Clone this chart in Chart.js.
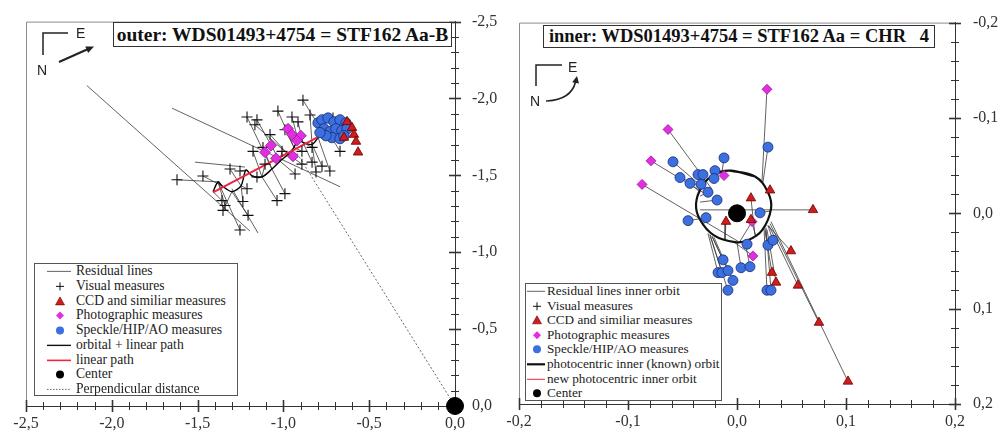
<!DOCTYPE html>
<html>
<head>
<meta charset="utf-8">
<script src="https://cdn.jsdelivr.net/npm/chart.js@4.4.0/dist/chart.umd.min.js"></script>
<style>
html, body { margin: 0; padding: 0; background: #fff; }
#wrap { position: relative; width: 1003px; height: 439px; overflow: hidden; font-family: "Liberation Serif", "Times New Roman", serif; }
canvas { position: absolute; top: 0; }
#cOuter { left: 0; }
#cInner { left: 500px; }
.title { position: absolute; box-sizing: border-box; border: 1px solid #333; background: #fff; font-weight: bold; white-space: pre; color: #111; text-align: center; }
.legend { position: absolute; box-sizing: border-box; border: 1px solid #555; background: #fff; color: #222; }
.legend .row { position: relative; white-space: nowrap; }
.legend svg { position: absolute; left: 0; top: 0; }
#compass { position: absolute; left: 0; top: 0; }
</style>
</head>
<body>
<div id="wrap">
  <canvas id="cOuter" width="500" height="439"></canvas>
  <canvas id="cInner" width="503" height="439"></canvas>
  <div class="title" style="left:113px;top:22px;width:339px;height:25px;font-size:19.5px;line-height:23px;">outer: WDS01493+4754 = STF162 Aa-B</div>
  <div class="title" style="left:543px;top:25px;width:392px;height:23px;font-size:18.5px;line-height:21px;">inner: WDS01493+4754 = STF162 Aa = CHR   4</div>
  <div class="legend" id="legOuter" style="left:34px;top:263px;width:204px;height:133px;font-size:13.6px;"></div>
  <div class="legend" id="legInner" style="left:525px;top:283px;width:197px;height:118px;font-size:13.2px;"></div>
  <svg id="compass" width="1003" height="439">
    <g stroke="#222" fill="none" stroke-width="1.5">
      <path d="M68 33 H43 V55"/>
      <line x1="59" y1="62" x2="87" y2="49.5" stroke-width="2"/>
      <path d="M562 65 H536 V86"/>
      <path d="M546 101 Q571 100 575.5 82" stroke-width="1.6"/>
    </g>
    <g fill="#222">
      <polygon points="94,46.5 88.1,52.9 85.3,46.5"/>
      <polygon points="577,76 579,83.6 572.2,82.2"/>
    </g>
    <g font-family="Liberation Sans, Arial, sans-serif" font-size="14" fill="#222">
      <text x="76" y="38">E</text>
      <text x="37" y="75">N</text>
      <text x="568" y="72">E</text>
      <text x="530" y="106">N</text>
    </g>
  </svg>
</div>
<script>
// ---------- outer orbit (STF162 Aa-B) ----------
const outerVisX = [-0.886,-1.212,-1.154,-1.166,-1.032,-0.950,-0.915,-0.845,-0.711,-1.177,-1.119,-1.008,-0.892,-0.892,-0.833,-0.775,-0.729,-0.670,-0.833,-0.932,-1.253,-1.311,-1.154,-1.620,-1.469,-1.358,-1.340,-1.352,-1.236,-1.206,-1.037,-0.991,-1.253,-1.078,-0.991,-0.810,-1.212,-1.107];
const outerVisY = [-1.989,-1.880,-1.861,-1.829,-1.918,-1.880,-1.848,-1.893,-1.873,-1.656,-1.682,-1.656,-1.656,-1.573,-1.586,-1.560,-1.528,-1.656,-1.682,-1.509,-1.528,-1.541,-1.490,-1.471,-1.496,-1.336,-1.304,-1.272,-1.330,-1.240,-1.336,-1.381,-1.145,-1.765,-1.797,-1.522,-1.413,-1.573];
const outerVisPredX = [-0.775,-1.067,-1.020,-0.973,-0.938,-0.915,-0.886,-0.833,-0.729,-1.125,-1.067,-1.020,-0.938,-0.973,-0.886,-0.833,-0.798,-0.729,-0.886,-1.020,-1.218,-1.247,-1.183,-1.381,-1.358,-1.410,-1.381,-1.300,-1.247,-1.300,-1.125,-1.067,-1.381,-0.973,-0.938,-0.833,-1.247,-1.125];
const outerVisPredY = [-1.790,-1.541,-1.592,-1.637,-1.682,-1.733,-1.714,-1.701,-1.765,-1.490,-1.541,-1.592,-1.682,-1.637,-1.714,-1.701,-1.746,-1.765,-1.714,-1.592,-1.535,-1.432,-1.496,-1.458,-1.432,-1.394,-1.458,-1.394,-1.432,-1.394,-1.490,-1.541,-1.458,-1.637,-1.682,-1.701,-1.432,-1.490];
// long residual lines
const outerLongX1 = [-2.145,-1.649,-1.515,-1.300];
const outerLongY1 = [-2.084,-1.937,-1.586,-1.413];
const outerLongX2 = [-1.195,-0.670,-1.224,-1.148];
const outerLongY2 = [-1.138,-1.426,-1.554,-1.125];

const outerCcdX = [-0.629,-0.600,-0.589,-0.577,-0.565,-0.647];
const outerCcdY = [-1.848,-1.810,-1.765,-1.720,-1.650,-1.746];
const outerPhotoX = [-1.072,-1.043,-0.973,-0.950,-0.898,-0.921,-0.944,-1.107];
const outerPhotoY = [-1.694,-1.611,-1.803,-1.765,-1.758,-1.726,-1.624,-1.650];
const outerSpeckleX = [-0.798,-0.775,-0.740,-0.705,-0.670,-0.635,-0.763,-0.729,-0.694,-0.659,-0.629,-0.717,-0.670,-0.752,-0.647,-0.787];
const outerSpeckleY = [-1.841,-1.861,-1.873,-1.848,-1.861,-1.841,-1.803,-1.784,-1.803,-1.790,-1.803,-1.746,-1.739,-1.758,-1.758,-1.778];

const outerPathX = [-1.410,-1.381,-1.358,-1.300,-1.247,-1.218,-1.183,-1.125,-1.067,-1.020,-0.973,-0.938,-0.915,-0.886,-0.833,-0.798,-0.775,-0.729,-0.682,-0.641];
const outerPathY = [-1.394,-1.458,-1.432,-1.394,-1.432,-1.535,-1.496,-1.490,-1.541,-1.592,-1.637,-1.682,-1.733,-1.714,-1.701,-1.746,-1.790,-1.765,-1.746,-1.778];
const outerLinearX = [-1.41,-0.73];
const outerLinearY = [-1.39,-1.79];
const outerPerpX = [0, -0.93];
const outerPerpY = [0, -1.66];

// ---------- inner orbit (STF162 Aa = CHR 4) ----------
const innerCcdX = [0.0303,0.0128,0.0697,-0.0101,0.0128,0.0495,0.0321,0.0358,0.0559,0.0752,0.1018];
const innerCcdY = [-0.0242,-0.0159,-0.0036,0.0087,0.0067,0.0396,0.0622,0.0725,0.0756,0.1146,0.1763];
const innerCcdPredX = [0.0266,0.0165,-0.0339,-0.0110,0.0174,0.0284,0.0257,0.0275,0.0293,0.0303,0.0312];
const innerCcdPredY = [-0.0252,0.0231,-0.0036,0.0272,0.0242,0.0129,0.0190,0.0170,0.0129,0.0108,0.0087];
const innerPhotoX = [0.0275,-0.0633,-0.0789,-0.0871,-0.0119,0.0138,0.0147];
const innerPhotoY = [-0.1301,-0.0879,-0.0550,-0.0303,-0.0396,0.0087,0.0447];
const innerPhotoPredX = [0.0229,-0.0229,-0.0284,0.0009,-0.0156,0.0028,-0.0037];
const innerPhotoPredY = [-0.0324,-0.0252,-0.0200,0.0293,-0.0427,0.0293,0.0293];
const innerSpeckleX = [0.0284,-0.0587,-0.0119,-0.0523,-0.0358,-0.0312,-0.0202,-0.0431,-0.0330,-0.0211,-0.0266,-0.0183,-0.0449,-0.0284,0.0211,0.0092,0.0284,0.0330,-0.0128,-0.0174,-0.0138,-0.0083,0.0037,0.0119,-0.0037,-0.0083,0.0275,0.0312];
const innerSpeckleY = [-0.0694,-0.0540,-0.0581,-0.0375,-0.0406,-0.0406,-0.0447,-0.0314,-0.0303,-0.0365,-0.0221,-0.0139,0.0077,0.0046,-0.0005,0.0324,0.0334,0.0283,0.0488,0.0622,0.0622,0.0601,0.0571,0.0560,0.0704,0.0807,0.0807,0.0807];
const innerSpecklePredX = [0.0238,-0.0293,-0.0138,-0.0312,-0.0303,-0.0284,-0.0211,-0.0339,-0.0321,-0.0229,-0.0339,-0.0339,-0.0339,-0.0312,0.0312,0.0101,0.0257,0.0284,-0.0229,-0.0266,-0.0248,-0.0229,0.0000,0.0073,-0.0211,-0.0248,0.0248,0.0266];
const innerSpecklePredY = [-0.0324,-0.0252,-0.0427,-0.0272,-0.0283,-0.0303,-0.0406,-0.0221,-0.0252,-0.0386,-0.0180,-0.0118,0.0057,0.0129,-0.0026,0.0283,0.0159,0.0129,0.0242,0.0211,0.0221,0.0242,0.0303,0.0293,0.0252,0.0231,0.0159,0.0149];
const innerOrbitX = [-0.0064,0.0165,0.0284,0.0312,0.0229,0.0101,-0.0018,-0.0211,-0.0339,-0.0376,-0.0321,-0.0211];
const innerOrbitY = [-0.0447,-0.0386,-0.0221,-0.0046,0.0180,0.0283,0.0303,0.0231,0.0067,-0.0098,-0.0283,-0.0406];

const outerLegend = ['Residual lines','Visual measures','CCD and similiar measures','Photographic measures','Speckle/HIP/AO measures','orbital + linear path','linear path','Center','Perpendicular distance'];
const innerLegend = ['Residual lines inner orbit','Visual measures','CCD and similiar measures','Photographic measures','Speckle/HIP/AO measures','photocentric inner (known) orbit','new photocentric inner orbit','Center'];

// colours
const C_RES = '#3a3a3a', C_VIS = '#111', C_CCD = '#d01c1c', C_CCD_B = '#6a0000';
const C_PHO = '#e02ee0', C_PHO_B = '#9a1a9a', C_SPK = '#3c6fe0', C_SPK_B = '#1b2c70';
const C_LIN = '#ee2440';

function pts(xs, ys) { return xs.map((x, i) => ({x: x, y: ys[i]})); }
function segs(x1, y1, x2, y2) {
  const out = [];
  x1.forEach((x, i) => { out.push({x: x, y: y1[i]}, {x: x2[i], y: y2[i]}, {x: NaN, y: NaN}); });
  return out;
}
const fmt = v => (Math.round(v * 10) / 10 + 0).toFixed(1).replace('.', ',');

function axes(min, max, step, majorEvery, xHeight, yWidth, yPad) {
  const tickFont = {family: '"Liberation Serif", "Times New Roman", serif', size: 16};
  const isMajor = v => Math.abs(Math.round(v / step)) % majorEvery === 0;
  const base = {
    type: 'linear', min: min, max: max,
    // tick marks themselves are drawn by the frameTicks plugin
    grid: {drawOnChartArea: false, drawTicks: true, tickLength: 5, color: '#333', tickColor: 'rgba(0,0,0,0)', lineWidth: 1},
    border: {display: true, color: '#333', width: 1}
  };
  const ticks = {stepSize: step, autoSkip: false, maxRotation: 0, color: '#333', font: tickFont,
                 callback: v => isMajor(v) ? fmt(v) : ''};
  return {
    x: Object.assign({}, base, {position: 'bottom', ticks: Object.assign({}, ticks, {padding: 3}),
        afterFit: s => { s.height = xHeight; }}),
    y: Object.assign({}, base, {position: 'right', reverse: true, ticks: Object.assign({}, ticks, {padding: yPad}),
        afterFit: s => { s.width = yWidth; }})
  };
}

// gray frame on top/left, tick marks crossing the axes (longer on labelled ticks)
const frameTicks = {
  id: 'frameTicks',
  beforeDatasetsDraw(chart, args, opts) {
    const ctx = chart.ctx, a = chart.chartArea, sx = chart.scales.x, sy = chart.scales.y;
    const isMajor = v => Math.abs(Math.round(v / opts.step)) % opts.majorEvery === 0;
    ctx.save();
    ctx.strokeStyle = '#8c8c8c';
    ctx.lineWidth = 1;
    ctx.beginPath();
    ctx.moveTo(a.left + 0.5, a.bottom);
    ctx.lineTo(a.left + 0.5, a.top + 0.5);
    ctx.lineTo(a.right, a.top + 0.5);
    ctx.stroke();
    ctx.strokeStyle = '#333';
    sx.ticks.forEach(t => {
      const p = Math.round(sx.getPixelForValue(t.value)) + 0.5;
      const L = isMajor(t.value) ? 6 : 4;
      ctx.lineWidth = isMajor(t.value) ? 1.6 : 1;
      ctx.beginPath(); ctx.moveTo(p, a.bottom - L); ctx.lineTo(p, a.bottom + L); ctx.stroke();
    });
    sy.ticks.forEach(t => {
      const p = Math.round(sy.getPixelForValue(t.value)) + 0.5;
      const L = isMajor(t.value) ? 6 : 4;
      ctx.lineWidth = isMajor(t.value) ? 1.6 : 1;
      ctx.beginPath(); ctx.moveTo(a.right - L, p); ctx.lineTo(a.right + L, p); ctx.stroke();
    });
    ctx.restore();
  }
};

function scatterSet(data, style, r, bg, border, bw) {
  return {data: data, showLine: false, pointStyle: style, pointRadius: r, backgroundColor: bg,
          borderColor: border, borderWidth: bw, pointBorderWidth: bw};
}
function lineSet(data, color, width, dash, tension) {
  return {data: data, showLine: true, pointRadius: 0, borderColor: color, borderWidth: width,
          borderDash: dash || [], tension: tension || 0, spanGaps: false, fill: false};
}

function baseOptions(step, majorEvery) {
  return {
    responsive: false, animation: false, events: [], devicePixelRatio: 1,
    plugins: {legend: {display: false}, tooltip: {enabled: false},
              frameTicks: {step: step, majorEvery: majorEvery}}
  };
}

new Chart(document.getElementById('cOuter'), {
  type: 'scatter',
  data: {datasets: [
    Object.assign(scatterSet([{x: 0, y: 0}], 'circle', 8.5, '#000', '#000', 1), {clip: false}),
    scatterSet(pts(outerCcdX, outerCcdY), 'triangle', 5.5, C_CCD, C_CCD_B, 0.8),
    scatterSet(pts(outerSpeckleX, outerSpeckleY), 'circle', 5.2, C_SPK, C_SPK_B, 0.8),
    scatterSet(pts(outerPhotoX, outerPhotoY), 'rectRot', 5.5, C_PHO, C_PHO_B, 0.8),
    scatterSet(pts(outerVisX, outerVisY), 'cross', 5.5, C_VIS, C_VIS, 1.1),
    lineSet(pts(outerLinearX, outerLinearY), C_LIN, 2),
    lineSet(pts(outerPathX, outerPathY), '#000', 1.4, null, 0.3),
    lineSet(pts(outerPerpX, outerPerpY), '#666', 1, [2, 2]),
    lineSet(segs(outerVisX.concat(outerLongX1), outerVisY.concat(outerLongY1),
                 outerVisPredX.concat(outerLongX2), outerVisPredY.concat(outerLongY2)), C_RES, 0.8)
  ]},
  options: Object.assign(baseOptions(0.1, 5), {
    layout: {padding: {left: 26, top: 15, right: 0, bottom: 0}},
    scales: axes(-2.5, 0, 0.1, 5, 33, 45, 12)
  }),
  plugins: [frameTicks]
});

new Chart(document.getElementById('cInner'), {
  type: 'scatter',
  data: {datasets: [
    Object.assign(scatterSet([{x: 0, y: 0}], 'circle', 8.5, '#000', '#000', 1), {clip: false}),
    scatterSet(pts(innerCcdX, innerCcdY), 'triangle', 5.5, C_CCD, C_CCD_B, 0.8),
    scatterSet(pts(innerPhotoX, innerPhotoY), 'rectRot', 5, C_PHO, C_PHO_B, 0.8),
    scatterSet(pts(innerSpeckleX, innerSpeckleY), 'circle', 5, C_SPK, C_SPK_B, 0.8),
    lineSet(pts(innerOrbitX.concat(innerOrbitX.slice(0, 2)), innerOrbitY.concat(innerOrbitY.slice(0, 2))), '#111', 2.2, null, 0.4),
    lineSet(segs(innerSpeckleX.concat(innerPhotoX, innerCcdX), innerSpeckleY.concat(innerPhotoY, innerCcdY),
                 innerSpecklePredX.concat(innerPhotoPredX, innerCcdPredX), innerSpecklePredY.concat(innerPhotoPredY, innerCcdPredY)), C_RES, 0.8)
  ]},
  options: Object.assign(baseOptions(0.02, 5), {
    layout: {padding: {left: 19, top: 15, right: 0, bottom: 0}},
    scales: axes(-0.2, 0.2, 0.02, 5, 35, 48, 13)
  }),
  plugins: [frameTicks]
});

// ---------- legends ----------
function iconSvg(kind, w, h, l1, l2, m) {
  const cy = h / 2;
  let s = '';
  if (kind === 'res') s = `<line x1="${l1}" y1="${cy}" x2="${l2}" y2="${cy}" stroke="${C_RES}" stroke-width="0.8"/>`;
  if (kind === 'vis') s = `<path d="M${m - 4} ${cy} H${m + 4} M${m} ${cy - 4} V${cy + 4}" stroke="${C_VIS}" stroke-width="1"/>`;
  if (kind === 'ccd') s = `<polygon points="${m},${cy - 4.5} ${m + 4.5},${cy + 3.5} ${m - 4.5},${cy + 3.5}" fill="${C_CCD}" stroke="${C_CCD_B}" stroke-width="0.6"/>`;
  if (kind === 'pho') s = `<polygon points="${m},${cy - 4} ${m + 4},${cy} ${m},${cy + 4} ${m - 4},${cy}" fill="${C_PHO}"/>`;
  if (kind === 'spk') s = `<circle cx="${m}" cy="${cy}" r="4" fill="${C_SPK}"/>`;
  if (kind === 'orb') s = `<line x1="${l1}" y1="${cy}" x2="${l2}" y2="${cy}" stroke="#111" stroke-width="1.4"/>`;
  if (kind === 'orb2') s = `<line x1="${l1}" y1="${cy}" x2="${l2}" y2="${cy}" stroke="#111" stroke-width="2.2"/>`;
  if (kind === 'lin') s = `<line x1="${l1}" y1="${cy}" x2="${l2}" y2="${cy}" stroke="${C_LIN}" stroke-width="1.6"/>`;
  if (kind === 'lin2') s = `<line x1="${l1}" y1="${cy}" x2="${l2}" y2="${cy}" stroke="${C_LIN}" stroke-width="1"/>`;
  if (kind === 'ctr') s = `<circle cx="${m}" cy="${cy}" r="4" fill="#000"/>`;
  if (kind === 'perp') s = `<line x1="${l1}" y1="${cy}" x2="${l2}" y2="${cy}" stroke="#666" stroke-width="1" stroke-dasharray="1.5,1.5"/>`;
  return `<svg width="${w}" height="${h}">${s}</svg>`;
}
function buildLegend(id, labels, kinds, rowH, l1, l2, m, textLeft) {
  const el = document.getElementById(id);
  labels.forEach((lab, i) => {
    const row = document.createElement('div');
    row.className = 'row';
    row.style.height = rowH + 'px';
    row.style.lineHeight = rowH + 'px';
    row.innerHTML = iconSvg(kinds[i], textLeft, rowH, l1, l2, m) +
      `<span style="position:absolute;left:${textLeft}px;top:0;">${lab}</span>`;
    el.appendChild(row);
  });
}
buildLegend('legOuter', outerLegend, ['res','vis','ccd','pho','spk','orb','lin','ctr','perp'], 14.75, 12, 36, 25, 41);
buildLegend('legInner', innerLegend, ['res','vis','ccd','pho','spk','orb2','lin2','ctr'], 14.6, 1, 19, 11, 21);
</script>
</body>
</html>
